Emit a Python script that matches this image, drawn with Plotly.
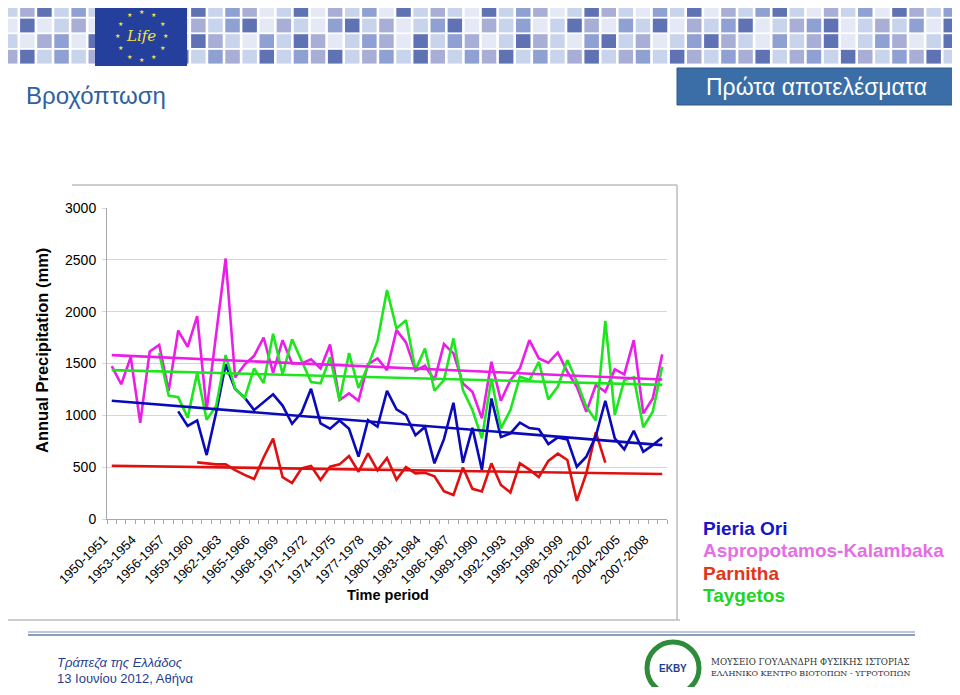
"""Annual precipitation slide: four Greek mountain stations with linear trends."""

import plotly.graph_objects as go

# ---- data -------------------------------------------------------------
PERIODS = [f"{y}-{y + 1}" for y in range(1950, 2009)]
TICK_LABELS = [
    "1950-1951", "1953-1954", "1956-1957", "1959-1960", "1962-1963",
    "1965-1966", "1968-1969", "1971-1972", "1974-1975", "1977-1978",
    "1980-1981", "1983-1984", "1986-1987", "1989-1990", "1992-1993",
    "1995-1996", "1998-1999", "2001-2002", "2004-2005", "2007-2008",
]

N = None
ASPROPOTAMOS = [
    1475, 1300, 1562, 928, 1617, 1680, 1236, 1818, 1661, 1957,
    1050, 1790, 2513, 1365, 1490, 1574, 1751, 1410, 1725, 1500,
    1500, 1540, 1453, 1684, 1147, 1212, 1141, 1495, 1549, 1436,
    1822, 1703, 1430, 1478, 1340, 1687, 1597, 1308, 1227, 971,
    1516, 1141, 1340, 1453, 1725, 1549, 1507, 1607, 1420, 1275,
    1034, 1292, 1227, 1443, 1395, 1725, 1019, 1163, 1588,
]
TAYGETOS = [
    N, N, N, N, N, 1600, 1190, 1176, 978, 1407,
    957, 1090, 1581, 1257, 1165, 1453, 1311, 1786, 1396, 1733,
    1525, 1321, 1308, 1560, 1144, 1600, 1265, 1477, 1717, 2208,
    1838, 1918, 1436, 1645, 1237, 1340, 1742, 1244, 1051, 778,
    1356, 874, 1051, 1372, 1340, 1516, 1154, 1278, 1533, 1324,
    1083, 951, 1912, 1003, 1340, 1366, 885, 1035, 1468,
]
PIERIA = [
    N, N, N, N, N, N, N, 1038, 898, 951,
    617, 1027, 1490, 1255, 1171, 1051, 1131, 1203, 1094, 919,
    1027, 1256, 922, 871, 951, 871, 601, 954, 890, 1236,
    1057, 1002, 808, 888, 537, 770, 1121, 543, 879, 472,
    1163, 790, 826, 929, 877, 865, 723, 787, 768, 504,
    601, 800, 1141, 778, 672, 851, 649, 713, 787,
]
PARNITHA = [
    N, N, N, N, N, N, N, N, N, 546,
    537, 527, 527, 472, 426, 386, 593, 775, 403, 347,
    488, 511, 376, 504, 527, 607, 456, 633, 469, 588,
    380, 501, 440, 446, 412, 268, 231, 497, 291, 265,
    537, 328, 256, 537, 476, 405, 560, 630, 569, 175,
    440, 837, 543, N, N, N, N, N, N,
]

# linear trend lines: value at first and last period
TREND_ASPROPOTAMOS = [1581, 1345]
TREND_TAYGETOS = [1436, 1294]
TREND_PIERIA = [1141, 713]
TREND_PARNITHA = [514, 434]

# ---- geometry helpers (page pixel -> paper) ---------------------------
# the html body keeps its default 8px margin, so the figure sits at (8, 8)
W, H = 960, 695
OFF = 8
PL, PR, PT, PB = 107, 667, 208, 519


def px(x):
    return (x - PL) / (PR - PL)


def py(y):
    return (PB - y) / (PB - PT)


x_idx = list(range(len(PERIODS)))
tick_pos = [PERIODS.index(t) for t in TICK_LABELS]

COL_ASPRO = "#ea1ee6"
COL_TAYG = "#1ee61e"
COL_PIERIA = "#0a0ab9"
COL_PARN = "#e01010"

fig = go.Figure()

series = [
    ("Parnitha", PARNITHA, TREND_PARNITHA, COL_PARN),
    ("Pieria Ori", PIERIA, TREND_PIERIA, COL_PIERIA),
    ("Aspropotamos-Kalambaka", ASPROPOTAMOS, TREND_ASPROPOTAMOS, COL_ASPRO),
    ("Taygetos", TAYGETOS, TREND_TAYGETOS, COL_TAYG),
]

for name, values, _, colour in series:
    fig.add_trace(
        go.Scatter(
            x=x_idx,
            y=values,
            mode="lines",
            name=name,
            line={"color": colour, "width": 2.6},
            customdata=PERIODS,
            hovertemplate="%{customdata}: %{y} mm<extra>" + name + "</extra>",
        )
    )

for name, _, trend, colour in series:
    fig.add_trace(
        go.Scatter(
            x=[x_idx[0], x_idx[-1]],
            y=trend,
            mode="lines",
            name=name + " trend",
            line={"color": colour, "width": 2.6},
            hoverinfo="skip",
        )
    )

fig.update_layout(
    width=W - 2 * OFF,
    height=H - 2 * OFF,
    margin={
        "l": PL - OFF,
        "r": W - OFF - PR,
        "t": PT - OFF,
        "b": H - OFF - PB,
        "autoexpand": False,
    },
    paper_bgcolor="white",
    plot_bgcolor="white",
    showlegend=False,
    font={"family": "Liberation Sans, Arial, sans-serif", "color": "black"},
)

fig.update_xaxes(
    range=[-0.5, len(PERIODS) - 0.5],
    tickmode="array",
    tickvals=tick_pos,
    ticktext=TICK_LABELS,
    tickangle=-45,
    ticks="",
    tickfont={"size": 13},
    ticklabelstandoff=7,
    ticklabelshift=-8,
    showline=True,
    linecolor="#a8a8a8",
    showgrid=False,
    zeroline=False,
    minor={
        "ticks": "outside",
        "tick0": -0.5,
        "dtick": 1,
        "ticklen": 4,
        "tickcolor": "#a8a8a8",
        "showgrid": False,
    },
)

fig.update_yaxes(
    range=[0, 3000],
    dtick=500,
    showgrid=True,
    gridcolor="#d6d6d6",
    showline=True,
    linecolor="#a8a8a8",
    ticks="outside",
    ticklen=4,
    tickcolor="#d6d6d6",
    tickfont={"size": 14},
    ticklabelstandoff=3,
    zeroline=False,
)

shapes = []
annotations = []


def rect(x0, y0, x1, y1, fill, line=None):
    shapes.append({
        "type": "rect", "xref": "paper", "yref": "paper",
        "x0": px(x0), "x1": px(x1), "y0": py(y0), "y1": py(y1),
        "fillcolor": fill, "line": line or {"width": 0}, "layer": "below",
    })


def text(x, y, label, size, colour="black", family=None, **kw):
    font = {"size": size, "color": colour}
    if family:
        font["family"] = family
    ann = {
        "x": px(x), "y": py(y), "xref": "paper", "yref": "paper",
        "xanchor": "center", "yanchor": "middle",
        "text": label, "showarrow": False, "font": font,
    }
    ann.update(kw)
    annotations.append(ann)


# ---- header mosaic banner ---------------------------------------------
SHADES = {
    "a": "#e4e9f5",
    "b": "#c8d3ec",
    "c": "#a9aed6",
    "d": "#8fa0d2",
    "e": "#5f72b3",
}
BANNER_ROWS = [
    "bceb" "dbcacbaebdcabeacbdaebcbaebdcabecbadbeacbdebacbdaecbdab",
    "aeab" "cabdebacbdeacbadebcabdeacbdabecadbeacbdeabcdeabcbdaeca",
    "bacd" "aebcbdaecbadbecabdcaebdcabecbadebcabdecbadbceabdcabedb",
    "cebd" "bcedbcebdcbebdcebcdbecbdcebdbcebcdbecbdcebcdbecbdcebdc",
]
for r, pattern in enumerate(BANNER_ROWS):
    y0 = 3 + r * 15.6
    for c, ch in enumerate(pattern):
        x0 = 3 + c * 17.1
        if x0 > W:
            break
        rect(x0, y0, x0 + 14.5, y0 + 13.8, SHADES[ch])

# EU Life logo
rect(95, 4, 187, 66, "#24409c")
for dx, dy in [
    (0, -24), (12, -21), (21, -12), (24, 0), (21, 12), (12, 21),
    (0, 24), (-12, 21), (-21, 12), (-24, 0), (-21, -12), (-12, -21),
]:
    text(141 + dx, 36 + dy, "\u2605", 6, "#f5e04a")
text(141, 36, "<i>Life</i>", 15, "#f5e04a", "DejaVu Serif")

# title and section box
text(24, 95, "Βροχόπτωση", 24, "#2f5f9f", xanchor="left")
rect(677, 68, 956, 105, "#3b6ea6", {"color": "#2d5a8c", "width": 1})
text(816, 87, "Πρώτα αποτελέσματα", 23, "white")

# chart frame
for x0, y0, x1, y1 in [(72, 185, 677, 185), (677, 185, 677, 620), (0, 620, 680, 620)]:
    shapes.append({
        "type": "line", "xref": "paper", "yref": "paper",
        "x0": px(x0), "y0": py(y0), "x1": px(x1), "y1": py(y1),
        "line": {"color": "#bdbdbd", "width": 1.5}, "layer": "below",
    })

# axis titles
text(42, 351, "<b>Annual Precipitation (mm)</b>", 16.5, textangle=-90)
text(388, 595, "<b>Time period</b>", 14.5)

# text legend
for i, (label, colour) in enumerate([
    ("Pieria Ori", "#1414c8"),
    ("Aspropotamos-Kalambaka", "#e46ee4"),
    ("Parnitha", "#e3341a"),
    ("Taygetos", "#22d422"),
]):
    text(701, 528 + i * 22.5, "<b>" + label + "</b>", 19, colour,
         xanchor="left")

# ---- footer -------------------------------------------------------------
for yy, colour in [(632, "#a8b6cc"), (635, "#5e7fa8")]:
    shapes.append({
        "type": "line", "xref": "paper", "yref": "paper",
        "x0": px(28), "x1": px(915), "y0": py(yy), "y1": py(yy),
        "line": {"color": colour, "width": 1.5}, "layer": "below",
    })
text(55, 662, "<i>Τράπεζα της Ελλάδος</i>", 13, "#1f3f8f", xanchor="left")
text(55, 678, "13 Ιουνίου 2012, Αθήνα", 13, "#1f3f8f", xanchor="left")

# EKBY logo
shapes.append({
    "type": "circle", "xref": "paper", "yref": "paper",
    "x0": px(647), "x1": px(699), "y0": py(642), "y1": py(694),
    "line": {"color": "#2e8b3a", "width": 5}, "fillcolor": "white",
    "layer": "below",
})
text(673, 668, "<b>EKBY</b>", 10, "#1d3f8f")
text(709, 662, "ΜΟΥΣΕΙΟ ΓΟΥΛΑΝΔΡΗ ΦΥΣΙΚΗΣ ΙΣΤΟΡΙΑΣ", 8.7, "#333333",
     "DejaVu Serif", xanchor="left")
text(709, 673, "ΕΛΛΗΝΙΚΟ ΚΕΝΤΡΟ ΒΙΟΤΟΠΩΝ - ΥΓΡΟΤΟΠΩΝ", 8, "#333333",
     "DejaVu Serif", xanchor="left")

fig.update_layout(shapes=shapes, annotations=annotations)

fig.write_html("out.html")
